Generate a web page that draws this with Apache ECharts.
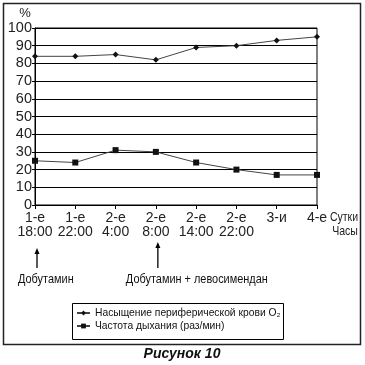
<!DOCTYPE html>
<html><head><meta charset="utf-8">
<script src="https://cdn.jsdelivr.net/npm/echarts@6/dist/echarts.min.js"></script>
<style>html,body{margin:0;padding:0;background:#fff}#c{width:365px;height:365px}</style>
</head><body><div id="c"></div>
<script>
const days = ['1-е','1-е','2-е','2-е','2-е','2-е','3-и','4-е'];
const hours = ['18:00','22:00','4:00','8:00','14:00','22:00','',''];
const spo2 = [84, 84, 85, 82, 89, 90, 93, 95];
const resp = [25, 24, 31, 30, 24, 20, 17, 17];
const yTicks = [0,10,20,30,40,50,60,70,80,90,100];
const seriesNames = ['Насыщение периферической крови O₂','Частота дыхания (раз/мин)'];
const annotations = [{idx:0, text:'Добутамин', dx:-19, top:248}, {idx:3, text:'Добутамин + левосимендан', dx:-32, top:242}];

const FONT = '"Liberation Sans", Arial, sans-serif';
const categories = days.map((d,i)=> hours[i] ? d+'\n'+hours[i] : d);
const chart = echarts.init(document.getElementById('c'));
const opt = {
  animation:false,
  textStyle:{fontFamily:FONT},
  grid:{left:35,right:48,top:28,bottom:160,show:true,borderColor:'#000',borderWidth:1},
  xAxis:{type:'category',data:categories,boundaryGap:false,
    axisLine:{lineStyle:{color:'#000',width:1}},
    axisTick:{show:true,length:4,lineStyle:{color:'#000'}},
    axisLabel:{color:'#222',fontSize:14,lineHeight:14,margin:6,interval:0,fontFamily:FONT},
    splitLine:{show:false}},
  yAxis:{type:'value',min:0,max:100,interval:10,
    axisLine:{show:true,lineStyle:{color:'#000'}},
    axisTick:{show:true,length:3,lineStyle:{color:'#000'}},
    axisLabel:{color:'#222',fontSize:14.5,margin:3,fontFamily:FONT,
      formatter:v=> yTicks.includes(v)? String(v):''},
    splitLine:{show:true,lineStyle:{color:'#000',width:1}}},
  legend:{show:true,orient:'vertical',left:76,top:308,itemGap:3,itemWidth:13,itemHeight:6,padding:0,
    textStyle:{fontSize:10.3,color:'#111',fontFamily:FONT},
    data:seriesNames},
  series:[
    {name:seriesNames[0],type:'line',data:spo2,symbol:'diamond',symbolSize:6,
      lineStyle:{color:'#444',width:1},itemStyle:{color:'#111'}},
    {name:seriesNames[1],type:'line',data:resp,symbol:'rect',symbolSize:6,
      lineStyle:{color:'#444',width:1},itemStyle:{color:'#111'}}
  ]
};
chart.setOption(opt);
const g = [
  {type:'rect',shape:{x:3.5,y:3.5,width:357,height:341},style:{fill:'none',stroke:'#222',lineWidth:1.5},z:10},
  {type:'rect',shape:{x:72.5,y:303.5,width:211,height:36},style:{fill:'none',stroke:'#000',lineWidth:1},z:10},
  {type:'text',x:25,y:13,style:{text:'%',font:'13px '+FONT,fill:'#222',textAlign:'center',textVerticalAlign:'middle'}},
  {type:'text',x:344,y:210,scaleX:0.78,originX:0,originY:0,style:{text:'Сутки',font:'13.5px '+FONT,fill:'#222',textAlign:'center',textVerticalAlign:'top'},z:10},
  {type:'text',x:345,y:224,scaleX:0.78,originX:0,originY:0,style:{text:'Часы',font:'13.5px '+FONT,fill:'#222',textAlign:'center',textVerticalAlign:'top'},z:10},
  {type:'text',x:182,y:354,style:{text:'Рисунок 10',font:'italic bold 14px '+FONT,fill:'#111',textAlign:'center',textVerticalAlign:'middle'}}
];
annotations.forEach(a=>{
  const px = chart.convertToPixel({xAxisIndex:0}, a.idx) + 2;
  g.push({type:'line',shape:{x1:px,y1:a.top+3,x2:px,y2:268},style:{stroke:'#000',lineWidth:1.3}});
  g.push({type:'polygon',shape:{points:[[px,a.top],[px-2.5,a.top+6],[px+2.5,a.top+6]]},style:{fill:'#000'}});
  g.push({type:'text',x:px+a.dx,y:279,scaleX:0.84,originX:0,originY:0,
    style:{text:a.text,font:'13px '+FONT,fill:'#111',textAlign:'left',textVerticalAlign:'middle'}});
});
chart.setOption({graphic:g});
</script></body></html>
